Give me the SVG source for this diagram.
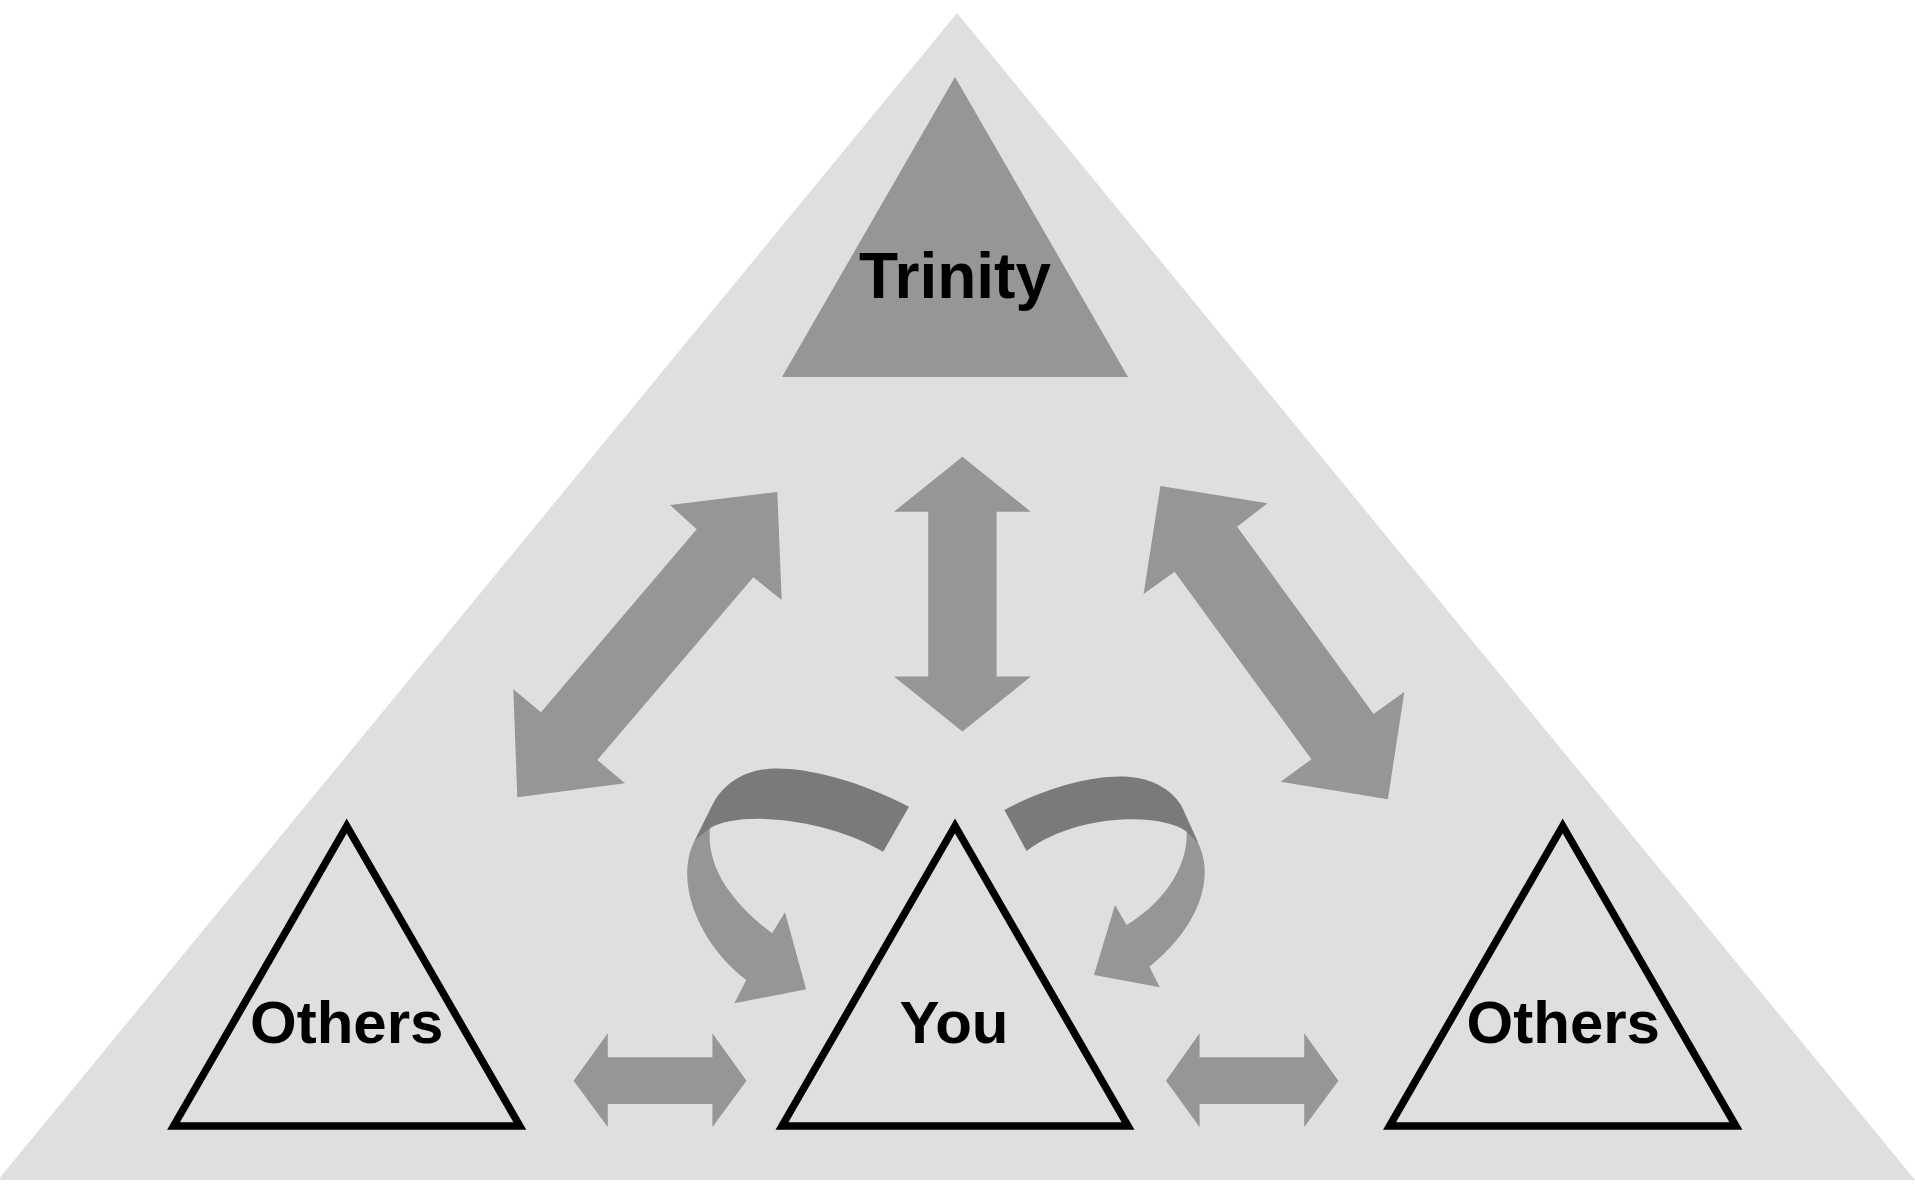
<svg xmlns="http://www.w3.org/2000/svg" width="1915" height="1184" viewBox="0 0 1915 1184">
  <style>
    .bg { fill: #dfdfdf; }
    .arrow { fill: #969696; }
    .band { fill: #7a7a7a; }
    .outline { fill: none; stroke: #000; stroke-width: 7.5; stroke-linejoin: miter; }
    .label { font-family: "Liberation Sans", Arial, sans-serif; font-weight: bold; fill: #000; text-anchor: middle; }
  </style>
  <rect x="0" y="0" width="1915" height="1184" fill="#ffffff"/>
  <g id="outer-triangle">
    <polygon class="bg" points="957,13 -2,1180 1915,1180"/>
  </g>
  <g id="node-trinity">
    <polygon fill="#969696" points="955,77 782,377 1128,377"/>
    <text class="label" x="955" y="298" font-size="64">Trinity</text>
  </g>
  <g id="node-others-left">
    <polygon class="outline" points="346.7,826 173.6,1126 519.8,1126"/>
    <text class="label" x="346.7" y="1043" font-size="60">Others</text>
  </g>
  <g id="node-you">
    <polygon class="outline" points="955,826 782,1126 1128,1126"/>
    <text class="label" x="954" y="1043" font-size="60">You</text>
  </g>
  <g id="node-others-right">
    <polygon class="outline" points="1562.7,826 1389.5,1126 1735.9,1126"/>
    <text class="label" x="1563.3" y="1043" font-size="60">Others</text>
  </g>
  <g id="connectors">
    <polygon class="arrow" points="777.3,492 670,505 696.7,529.3 541,712.3 513.3,689.3 517.3,797.3 625,783.3 597.3,760 753.3,577.3 781.7,600"/>
    <polygon class="arrow" points="1160.4,486 1267.5,503.3 1237.1,526.7 1373.6,714 1404.3,692 1387.9,799.3 1280.7,781.7 1311.4,759.3 1174.6,571.7 1143.6,594"/>
    <polygon class="arrow" points="962.4,456.8 1030.8,511.7 996.6,511.7 996.6,676.6 1030.8,676.6 962.4,731.6 894,676.6 928.2,676.6 928.2,511.7 894,511.7"/>
    <polygon class="arrow" points="573.6,1080.7 607.8,1033.3 607.8,1057.3 712.4,1057.3 712.4,1033.3 746.5,1080.7 712.4,1127 712.4,1104 607.8,1104 607.8,1127"/>
    <polygon class="arrow" points="1166,1080.7 1199.6,1033.3 1199.6,1057.3 1304.2,1057.3 1304.2,1033.3 1338.4,1080.7 1304.2,1127 1304.2,1104 1199.6,1104 1199.6,1127"/>
    <g id="curved-left">
      <path class="arrow" d="M710,828.3 C706,870 735,905 772.1,933.3 L785,912.3 L806.1,989.3 L734.4,1003.3 L746.2,980 C700,945 673,882 695,840 L713.3,803.3 Z"/>
      <path class="band" d="M909,806.7 C850,776 790,764 760,770 C738,774 722,787 713.3,803.3 L695,840 L710,828.3 C735,812 820,815 883.1,851.7 Z"/>
    </g>
    <g id="curved-right">
      <path class="arrow" d="M1186.7,831.7 C1188,870 1160,905 1126.5,925 L1115,905 L1094,975 L1159.8,987.3 L1149.4,966.7 C1190,935 1218,885 1198.3,843.3 L1181,805 Z"/>
      <path class="band" d="M1004.4,810 C1045,788 1095,774 1130,777 C1152,779 1170,788 1181,805 L1198.3,843.3 L1186.7,831.7 C1160,812 1075,814 1026.6,851 Z"/>
    </g>
  </g>
</svg>
